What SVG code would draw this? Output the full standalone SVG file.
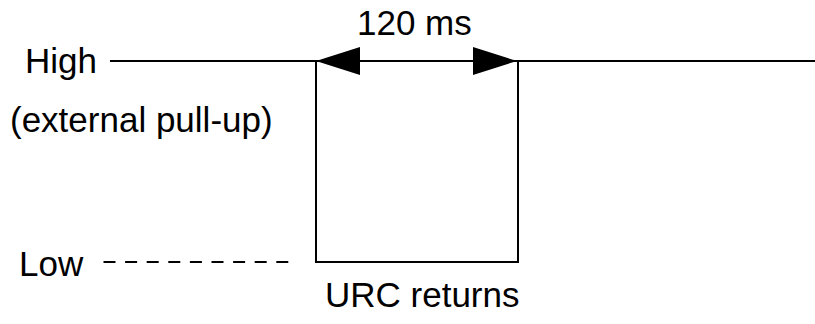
<svg xmlns="http://www.w3.org/2000/svg" width="815" height="324" viewBox="0 0 815 324">
  <style>
    .lbl { font-family: "Liberation Sans", Arial, sans-serif; font-size: 35px; fill: #000; }
    .wire { stroke: #000; stroke-width: 2; fill: none; }
    .dash { stroke: #000; stroke-width: 2; fill: none; stroke-dasharray: 12 9.6; }
  </style>
  <defs>
    <marker id="head" viewBox="0 0 44 28" refX="44" refY="14" markerWidth="44" markerHeight="28" markerUnits="userSpaceOnUse" orient="auto-start-reverse">
      <path d="M0,0 L44,14 L0,28 Z" fill="#000"/>
    </marker>
  </defs>
  <rect width="815" height="324" fill="#fff"/>

  <!-- level labels -->
  <g id="label-high">
    <text class="lbl" x="25" y="72.5">High</text>
  </g>
  <g id="label-pullup">
    <text class="lbl" x="10" y="132">(external pull-up)</text>
  </g>
  <g id="label-low">
    <text class="lbl" x="19" y="276">Low</text>
  </g>
  <g id="label-duration">
    <text class="lbl" x="357" y="35">120 ms</text>
  </g>
  <g id="label-urc">
    <text class="lbl" x="325" y="307">URC returns</text>
  </g>

  <!-- signal waveform and timing markers -->
  <g id="connectors">
    <path class="wire" d="M110,61 H316 V262 H518 V61 H815"/>
    <line class="dash" x1="103.5" y1="262" x2="288.5" y2="262"/>
    <line class="wire" x1="316" y1="61" x2="517" y2="61" marker-start="url(#head)" marker-end="url(#head)"/>
  </g>
</svg>
